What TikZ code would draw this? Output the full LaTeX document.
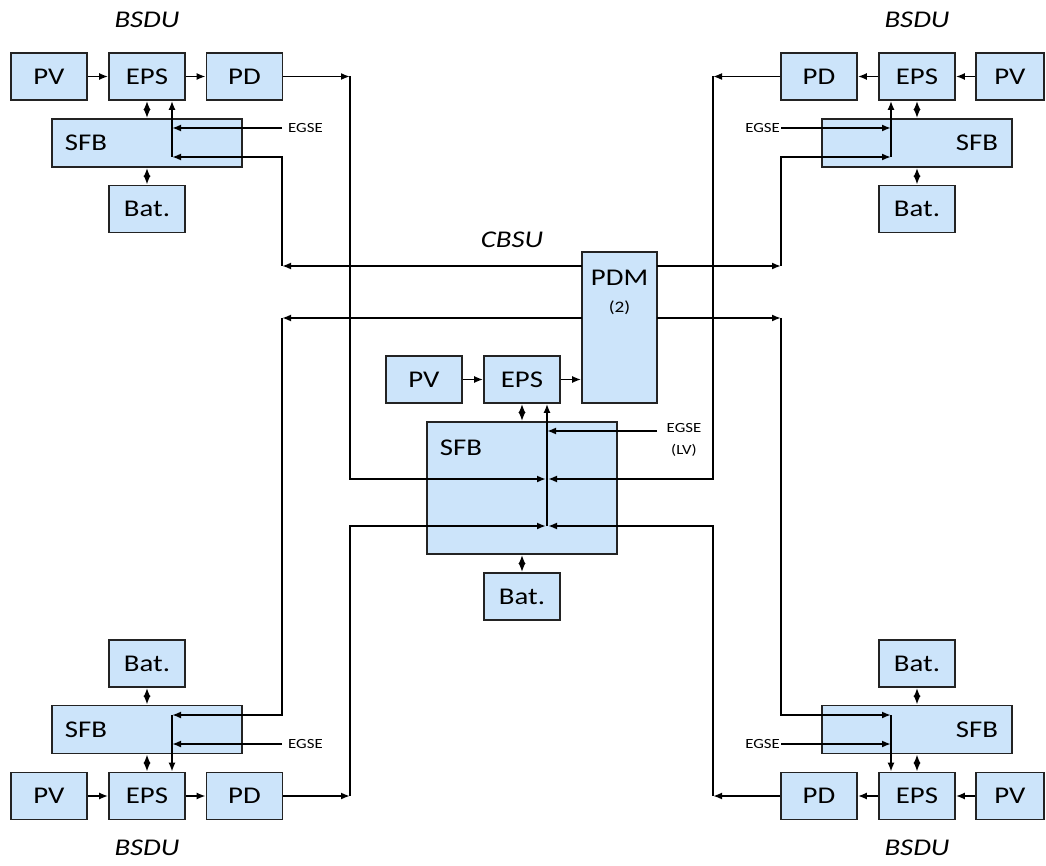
\documentclass[tikz,border=0pt]{standalone}
\usepackage{fontspec}
\setmainfont{Carlito}[FakeStretch=1.2]
\usetikzlibrary{arrows.meta}
\definecolor{boxfill}{RGB}{204,228,250}
\definecolor{boxedge}{RGB}{35,35,35}

\begin{document}
\begin{tikzpicture}[x=1pt,y=-1pt,
  box/.style={draw=boxedge, fill=boxfill, line width=1.6pt, inner sep=0pt,
    minimum width=76pt, minimum height=47pt, font=\fontsize{24}{27}\selectfont},
  wide/.style={box, minimum width=190pt, minimum height=48pt},
  tag/.style={font=\fontsize{24}{27}\selectfont},
  small/.style={font=\fontsize{14}{22}\selectfont, inner ysep=0pt},
  note/.style={font=\fontsize{16}{18}\selectfont},
  unit/.style={font=\fontsize{24}{27}\selectfont\itshape},
  wire/.style={line width=1.8pt, black},
  flow/.style={wire, -{Latex[length=9pt,width=7pt]}},
  dual/.style={wire, {Latex[length=9pt,width=7pt]}-{Latex[length=9pt,width=7pt]}},
]
\useasboundingbox (0,0) rectangle (1046,866);

% ---------- unit titles ----------
\node[unit] (t1) at (147,20) {BSDU};
\node[unit] (t2) at (917,20) {BSDU};
\node[unit] (t3) at (147,848) {BSDU};
\node[unit] (t4) at (917,848) {BSDU};
\node[unit] (t0) at (512,240) {CBSU};

% ---------- top-left BSDU ----------
\node[box] (pv1)  at (49,76.5)  {PV};
\node[box] (eps1) at (147,76.5) {EPS};
\node[box] (pd1)  at (244.5,76.5) {PD};
\node[wide, label={[tag, xshift=-61pt]center:SFB}] (sfb1) at (147,143) {};
\node[box] (bat1) at (147,209) {Bat.};

% ---------- top-right BSDU ----------
\node[box] (pd2)  at (819,76.5) {PD};
\node[box] (eps2) at (917,76.5) {EPS};
\node[box, minimum width=68pt] (pv2) at (1010,76.5) {PV};
\node[wide, label={[tag, xshift=60pt]center:SFB}] (sfb2) at (917,143) {};
\node[box] (bat2) at (917,209) {Bat.};

% ---------- bottom-left BSDU ----------
\node[box] (bat3) at (147,663.5) {Bat.};
\node[wide, label={[tag, xshift=-61pt]center:SFB}] (sfb3) at (147,729.5) {};
\node[box] (pv3)  at (49,796)  {PV};
\node[box] (eps3) at (147,796) {EPS};
\node[box] (pd3)  at (244.5,796) {PD};

% ---------- bottom-right BSDU ----------
\node[box] (bat4) at (917,663.5) {Bat.};
\node[wide, label={[tag, xshift=60pt]center:SFB}] (sfb4) at (917,729.5) {};
\node[box] (pd4)  at (819,796) {PD};
\node[box] (eps4) at (917,796) {EPS};
\node[box, minimum width=68pt] (pv4) at (1010,796) {PV};

% ---------- central CBSU ----------
\node[box, minimum width=75pt, minimum height=151pt,
      label={[tag, yshift=49.5pt]center:PDM},
      label={[note, yshift=19.5pt]center:(2)}] (pdm) at (619.5,327.5) {};
\node[box] (pv0)  at (424,379.5) {PV};
\node[box] (eps0) at (522,379.5) {EPS};
\node[box, minimum width=190pt, minimum height=132pt,
      label={[tag, xshift=-61pt, yshift=40pt]center:SFB}] (sfb0) at (522,488) {};
\node[box] (bat0) at (522,596.5) {Bat.};

% ---------- EGSE inputs ----------
\node[small, anchor=west, inner xsep=6pt] (egse1) at (282,128) {EGSE};
\node[small, anchor=east, inner xsep=1pt] (egse2) at (781,128) {EGSE};
\node[small, anchor=west, inner xsep=6pt] (egse3) at (282,744) {EGSE};
\node[small, anchor=east, inner xsep=1pt] (egse4) at (781,744) {EGSE};
\node[small, align=center, anchor=north] (egse0) at (684,423) {EGSE\\(LV)};

% ---------- junction points ----------
\coordinate (a1) at (172,128);  \coordinate (b1) at (172,157);
\coordinate (a2) at (891,128);  \coordinate (b2) at (891,157);
\coordinate (a3) at (172,744);  \coordinate (b3) at (172,715);
\coordinate (a4) at (891,744);  \coordinate (b4) at (891,715);

\coordinate (pdmL1) at (582,266); \coordinate (pdmR1) at (657,266);
\coordinate (pdmL2) at (582,318); \coordinate (pdmR2) at (657,318);
\coordinate (turn1) at (282,266); \coordinate (turn2) at (781,266);
\coordinate (turn3) at (282,318); \coordinate (turn4) at (781,318);

\coordinate (bus1) at (350,76.5); \coordinate (bus2) at (713,76.5);
\coordinate (bus3) at (350,796);  \coordinate (bus4) at (713,796);

\coordinate (cEg)  at (547,431);  \coordinate (cIn) at (657,431);
\coordinate (cMid) at (547,479);  \coordinate (cLow) at (547,526);

% ---------- power chains ----------
\draw[flow] (pv1) -- (eps1);
\draw[flow] (eps1) -- (pd1);
\draw[flow] (pv2) -- (eps2);
\draw[flow] (eps2) -- (pd2);
\draw[flow] (pv3) -- (eps3);
\draw[flow] (eps3) -- (pd3);
\draw[flow] (pv4) -- (eps4);
\draw[flow] (eps4) -- (pd4);
\draw[flow] (pv0) -- (eps0);
\draw[flow] (eps0.east) -- (eps0.east -| pdm.west);

% ---------- bidirectional links ----------
\draw[dual] (eps1.south) -- (sfb1.north);
\draw[dual] (sfb1.south) -- (bat1.north);
\draw[dual] (eps2.south) -- (sfb2.north);
\draw[dual] (sfb2.south) -- (bat2.north);
\draw[dual] (bat3.south) -- (sfb3.north);
\draw[dual] (sfb3.south) -- (eps3.north);
\draw[dual] (bat4.south) -- (sfb4.north);
\draw[dual] (sfb4.south) -- (eps4.north);
\draw[dual] (eps0.south) -- (sfb0.north);
\draw[dual] (sfb0.south) -- (bat0.north);

% ---------- EGSE feeds ----------
\draw[flow] (egse1.west) -- (a1);
\draw[flow] (egse2.east) -- (a2);
\draw[flow] (egse3.west) -- (a3);
\draw[flow] (egse4.east) -- (a4);
\draw[flow] (cIn) -- (cEg);

% ---------- PDM distribution to the BSDUs ----------
\draw[flow] (pdmL1) -- (turn1);
\draw[flow] (turn1) |- (b1);
\draw[flow] (b1) -- (b1 |- eps1.south);

\draw[flow] (pdmR1) -- (turn2);
\draw[flow] (turn2) |- (b2);
\draw[flow] (b2) -- (b2 |- eps2.south);

\draw[flow] (pdmL2) -- (turn3);
\draw[flow] (turn3) |- (b3);
\draw[flow] (b3) -- (b3 |- eps3.north);

\draw[flow] (pdmR2) -- (turn4);
\draw[flow] (turn4) |- (b4);
\draw[flow] (b4) -- (b4 |- eps4.north);

% ---------- BSDU return to the central SFB ----------
\draw[flow] (pd1.east) -- (bus1);
\draw[flow, shorten >=1pt] (bus1) |- (cMid);
\draw[flow] (pd2.west) -- (bus2);
\draw[flow, shorten >=1pt] (bus2) |- (cMid);
\draw[flow] (pd3.east) -- (bus3);
\draw[flow, shorten >=1pt] (bus3) |- (cLow);
\draw[flow] (pd4.west) -- (bus4);
\draw[flow, shorten >=1pt] (bus4) |- (cLow);

\draw[flow] (cLow) -- (cLow |- eps0.south);
\end{tikzpicture}
\end{document}
